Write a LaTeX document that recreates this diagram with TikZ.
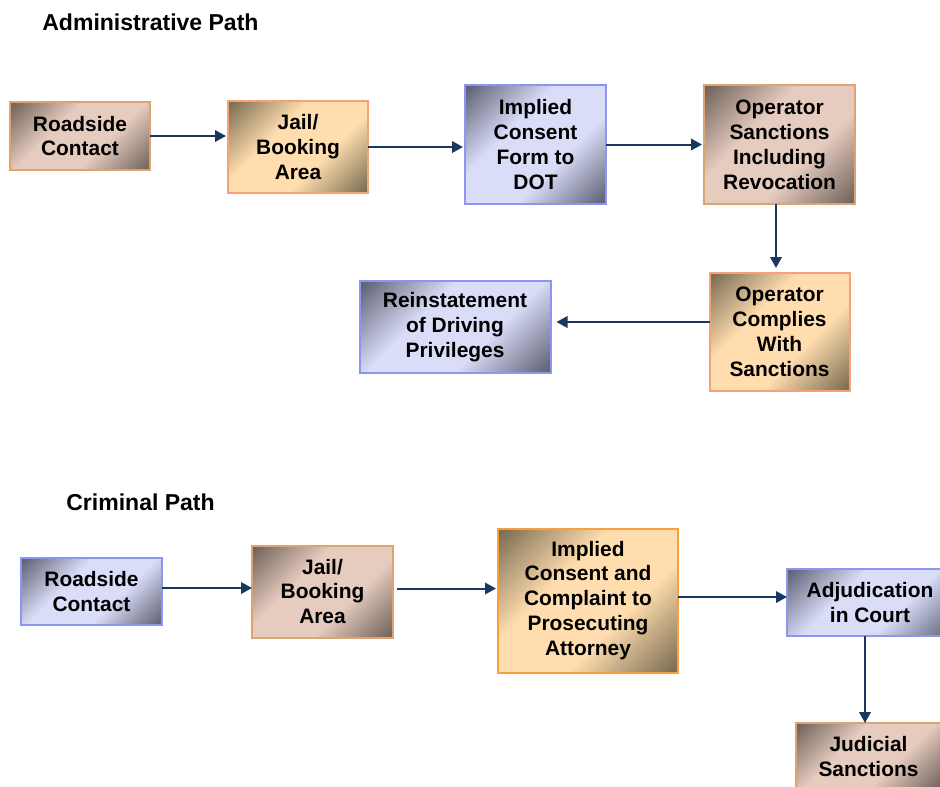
\documentclass[tikz,border=0pt]{standalone}
\usepackage{fontspec}
\setmainfont{Liberation Sans}
\usetikzlibrary{arrows.meta,positioning,calc}
\definecolor{pinkdark}  {RGB}{110, 96, 88}
\definecolor{pinklight} {RGB}{230,203,191}
\definecolor{pinkline}  {RGB}{222,164,112}
\definecolor{peachdark} {RGB}{120,106, 80}
\definecolor{peachlight}{RGB}{255,221,174}
\definecolor{peachline} {RGB}{248,160,120}
\definecolor{orngline}  {RGB}{248,160, 64}
\definecolor{bluedark}  {RGB}{ 92, 94,114}
\definecolor{bluelight} {RGB}{218,221,248}
\definecolor{blueline}  {RGB}{140,150,240}
\definecolor{arrnavy}   {RGB}{ 24, 56, 96}
\pgfdeclarehorizontalshading{pinkfill}{100bp}{color(0bp)=(pinkdark); color(15bp)=(pinkdark);
  color(39bp)=(pinklight); color(61bp)=(pinklight); color(85bp)=(pinkdark); color(100bp)=(pinkdark)}
\pgfdeclarehorizontalshading{peachfill}{100bp}{color(0bp)=(peachdark); color(15bp)=(peachdark);
  color(39bp)=(peachlight); color(61bp)=(peachlight); color(85bp)=(peachdark); color(100bp)=(peachdark)}
\pgfdeclarehorizontalshading{bluefill}{100bp}{color(0bp)=(bluedark); color(15bp)=(bluedark);
  color(39bp)=(bluelight); color(61bp)=(bluelight); color(85bp)=(bluedark); color(100bp)=(bluedark)}
\tikzset{
  box/.style={shade,shading angle=-45,line width=0.04cm,inner sep=0pt,outer sep=0pt,
              align=center,font=\fontsize{11.9}{14.2}\selectfont\bfseries},
  boxpink/.style={box,draw=pinkline,shading=pinkfill},
  boxpeach/.style={box,draw=peachline,shading=peachfill},
  boxorng/.style={box,draw=orngline,shading=peachfill},
  boxblue/.style={box,draw=blueline,shading=bluefill},
  arr/.style={-{Triangle[length=0.22cm,width=0.23cm]},line width=0.04cm,color=arrnavy},
  ttl/.style={font=\fontsize{13.1}{16}\selectfont\bfseries,inner sep=0pt,anchor=base west},
}

\begin{document}
\begin{tikzpicture}[>=Stealth]
  \useasboundingbox (0,0) rectangle (18.8,-15.72);
  \clip (0,0) rectangle (18.8,-15.72);

  % administrative path
  \node[ttl] (ttlA) at (0.84,-0.60) {Administrative Path};
  \node[boxpink,minimum width=2.8cm,minimum height=1.36cm] (roadA) at (1.6,-2.72) {Roadside\\Contact};
  \node[boxpeach,minimum width=2.8cm,minimum height=1.84cm,right=1.56cm of roadA,yshift=-0.22cm] (jailA) {Jail/\\Booking\\Area};
  \node[boxblue,minimum width=2.82cm,minimum height=2.38cm,right=1.94cm of jailA,yshift=0.05cm] (formA) {Implied\\Consent\\Form to\\DOT};
  \node[boxpink,minimum width=3.02cm,minimum height=2.38cm,right=1.96cm of formA] (sanctA) {Operator\\Sanctions\\Including\\Revocation};
  \node[boxpeach,minimum width=2.8cm,minimum height=2.36cm,below=1.38cm of sanctA] (compA) {Operator\\Complies\\With\\Sanctions};
  \node[boxblue,minimum width=3.82cm,minimum height=1.84cm,left=3.18cm of compA,yshift=0.1cm] (reinA) {Reinstatement\\of Driving\\Privileges};

  \draw[arr,shorten >=0.04cm] (roadA.east) -- (roadA.east -| jailA.west);
  \draw[arr,shorten >=0.04cm] (jailA.east) -- (jailA.east -| formA.west);
  \draw[arr,shorten >=0.04cm] (formA) -- (sanctA);
  \draw[arr,shorten >=0.1cm] ([xshift=-0.07cm]sanctA.south) -- ([xshift=-0.07cm]sanctA.south |- compA.north);
  \draw[arr,shorten >=0.12cm] ([yshift=0.2cm]compA.west) -- ([yshift=0.2cm]compA.west -| reinA.east);

  % criminal path
  \node[ttl] (ttlC) at (1.32,-10.2) {Criminal Path};
  \node[boxblue,minimum width=2.82cm,minimum height=1.34cm] (roadC) at (1.83,-11.83) {Roadside\\Contact};
  \node[boxpink,minimum width=2.82cm,minimum height=1.84cm,right=1.8cm of roadC] (jailC) {Jail/\\Booking\\Area};
  \node[boxorng,minimum width=3.6cm,minimum height=2.88cm,right=2.1cm of jailC,yshift=-0.18cm] (implC) {Implied\\Consent and\\Complaint to\\Prosecuting\\Attorney};
  \node[boxblue,minimum width=3.32cm,minimum height=1.34cm,right=2.18cm of implC,yshift=-0.04cm] (adjC) {Adjudication\\in Court};
  \node[boxpink,minimum width=2.9cm,minimum height=1.34cm,below=1.74cm of adjC,xshift=-0.03cm] (judC) {Judicial\\Sanctions};

  \draw[arr] ([yshift=0.07cm]roadC.east) -- ([yshift=0.07cm]roadC.east -| jailC.west);
  \draw[arr,shorten <=0.08cm,shorten >=0.04cm] ([yshift=0.06cm]jailC.east) -- ([yshift=0.06cm]jailC.east -| implC.west);
  \draw[arr] ([yshift=0.07cm]implC.east) -- ([yshift=0.07cm]implC.east -| adjC.west);
  \draw[arr] ([xshift=-0.1cm]adjC.south) -- ([xshift=-0.1cm]adjC.south |- judC.north);
\end{tikzpicture}
\end{document}
